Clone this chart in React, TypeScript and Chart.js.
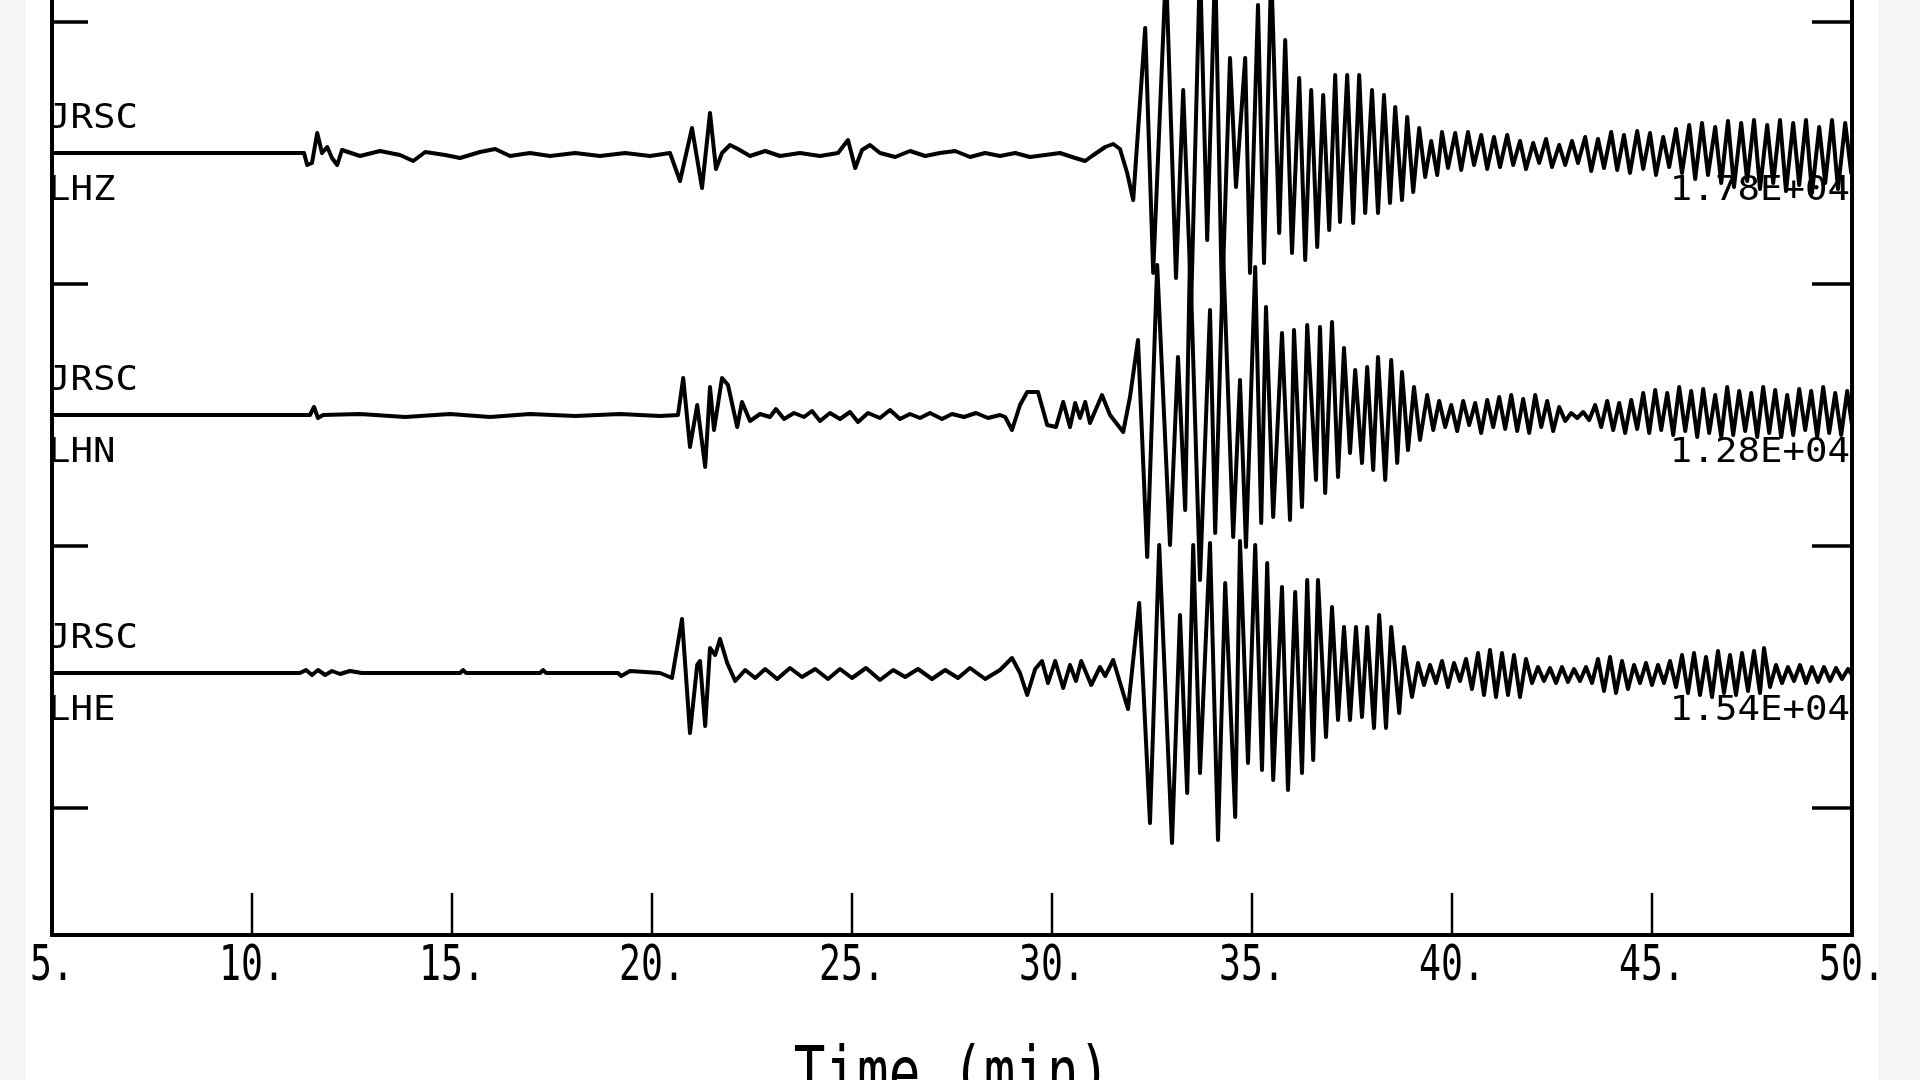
import { useEffect, useRef } from "react";
import { Chart, registerables } from "chart.js";

Chart.register(...registerables);

// ---- axis data ----
const xMin = 5;
const xMax = 50;
const xTicks = [5, 10, 15, 20, 25, 30, 35, 40, 45, 50];
const xTickLabels = ["5.", "10.", "15.", "20.", "25.", "30.", "35.", "40.", "45.", "50."];
const xTitle = "Time (min)";
const yMin = 0;
const yMax = 935;
const yTickValues = [127, 389, 651, 913];

// ---- trace meta ----
const traceBaselines = [782, 520, 262];
const stationNames = ["JRSC", "JRSC", "JRSC"];
const channelNames = ["LHZ", "LHN", "LHE"];
const amplitudeLabels = ["1.78E+04", "1.28E+04", "1.54E+04"];

// ---- trace samples: [time (min), amplitude] ----
const lhzSamples: [number, number][] = [
  [5.0, 0], [11.3, 0], [11.38, -12], [11.5, -10], [11.63, 20], [11.75, 0], [11.88, 6], [12.0, -5], [12.13, -12], [12.25, 3],
  [12.7, -3], [13.2, 2], [13.7, -2], [14.03, -8], [14.33, 1], [14.83, -2], [15.2, -5], [15.7, 1], [16.08, 4], [16.45, -3],
  [16.95, 0], [17.45, -3], [18.08, 0], [18.7, -3], [19.33, 0], [19.95, -3], [20.45, 0], [20.7, -28], [21.0, 25], [21.25, -35],
  [21.45, 40], [21.6, -16], [21.75, 0], [21.95, 8], [22.15, 4], [22.45, -3], [22.83, 2], [23.2, -3], [23.7, 0], [24.2, -3],
  [24.65, 0], [24.9, 13], [25.08, -15], [25.25, 3], [25.45, 8], [25.7, 0], [26.08, -4], [26.45, 2], [26.83, -3], [27.2, 0],
  [27.58, 2], [27.95, -4], [28.33, 0], [28.7, -3], [29.08, 0], [29.45, -4], [29.83, -2], [30.2, 0], [30.58, -5], [30.83, -8],
  [31.0, -3], [31.33, 6], [31.53, 9], [31.7, 4], [31.88, -20], [32.03, -47],
  [32.33, 125], [32.53, -120], [32.85, 185], [33.1, -125], [33.28, 63], [33.48, -150], [33.7, 190], [33.88, -87], [34.08, 190], [34.25, -150],
  [34.45, 95], [34.6, -34], [34.83, 95], [34.95, -120], [35.15, 148], [35.3, -110], [35.48, 185], [35.68, -80], [35.83, 113], [36.0, -100],
  [36.18, 75], [36.33, -107], [36.48, 63], [36.63, -94], [36.78, 58], [36.93, -77], [37.08, 78], [37.2, -69], [37.38, 78], [37.53, -70],
  [37.68, 78], [37.83, -60], [38.0, 63], [38.15, -60], [38.3, 58], [38.45, -50], [38.58, 46], [38.75, -47], [38.88, 36], [39.03, -39],
  [39.18, 25], [39.33, -24], [39.48, 12], [39.63, -22], [39.75, 21],
  [39.9, -15], [40.08, 20], [40.23, -17], [40.4, 21], [40.55, -12], [40.73, 18], [40.88, -16], [41.05, 16], [41.2, -14], [41.38, 18],
  [41.53, -12], [41.7, 12], [41.85, -16], [42.03, 10], [42.18, -10], [42.35, 14], [42.5, -14], [42.68, 8], [42.83, -12], [43.0, 12],
  [43.15, -10], [43.33, 16], [43.48, -18], [43.65, 14], [43.8, -15], [43.98, 21], [44.13, -17], [44.3, 18], [44.45, -20], [44.63, 22],
  [44.78, -16], [44.95, 20], [45.1, -22], [45.28, 16], [45.43, -14], [45.6, 24], [45.75, -20], [45.93, 28], [46.08, -26], [46.25, 30],
  [46.4, -22], [46.58, 26], [46.73, -30], [46.9, 32], [47.05, -34], [47.23, 30], [47.38, -28], [47.55, 33], [47.7, -36], [47.88, 28],
  [48.03, -30], [48.2, 33], [48.35, -38], [48.53, 30], [48.68, -32], [48.85, 33], [49.0, -40], [49.18, 26], [49.33, -30], [49.5, 33],
  [49.65, -36], [49.83, 30], [49.98, -20],
];

const lhnSamples: [number, number][] = [
  [5.0, 0], [11.45, 0], [11.55, 8], [11.65, -3], [11.78, 0], [12.7, 1], [13.83, -2], [14.95, 1], [15.95, -2], [16.95, 1],
  [18.08, -1], [19.2, 1], [20.2, -1], [20.65, 0], [20.78, 37], [20.95, -32], [21.13, 10], [21.33, -52], [21.45, 28], [21.55, -15],
  [21.75, 37], [21.9, 30], [22.13, -12], [22.25, 13], [22.45, -6], [22.7, 1], [22.95, -2], [23.1, 6], [23.3, -4], [23.55, 2],
  [23.8, -2], [24.0, 4], [24.2, -6], [24.45, 2], [24.7, -4], [24.95, 3], [25.15, -7], [25.4, 2], [25.7, -3], [25.95, 5],
  [26.2, -4], [26.45, 1], [26.7, -3], [26.95, 2], [27.25, -4], [27.5, 1], [27.8, -2], [28.1, 2], [28.4, -3], [28.7, 0],
  [28.83, -2], [29.0, -15], [29.2, 10], [29.38, 23], [29.65, 23], [29.88, -10], [30.1, -12], [30.28, 13], [30.45, -12], [30.58, 12],
  [30.7, -3], [30.83, 13], [30.95, -8], [31.25, 20], [31.45, 0],
  [31.78, -17], [31.95, 18], [32.15, 75], [32.38, -142], [32.63, 150], [32.95, -130], [33.15, 58], [33.33, -95], [33.45, 160], [33.7, -165],
  [33.95, 105], [34.08, -118], [34.28, 160], [34.53, -122], [34.7, 35], [34.85, -132], [35.08, 148], [35.23, -108], [35.35, 108], [35.53, -102],
  [35.75, 82], [35.95, -105], [36.05, 85], [36.25, -92], [36.38, 90], [36.6, -65], [36.7, 88], [36.83, -78], [37.0, 93], [37.15, -62],
  [37.3, 67], [37.45, -38], [37.58, 45], [37.75, -48], [37.88, 48], [38.03, -55], [38.15, 58], [38.33, -65], [38.48, 55], [38.63, -48],
  [38.75, 43], [38.9, -35], [39.05, 28], [39.2, -25], [39.38, 20], [39.53, -15],
  [39.68, 14], [39.83, -12], [39.98, 10], [40.13, -16], [40.28, 14], [40.43, -10], [40.58, 12], [40.73, -18], [40.88, 15], [41.03, -12],
  [41.18, 18], [41.33, -14], [41.48, 20], [41.63, -16], [41.78, 16], [41.93, -18], [42.08, 20], [42.23, -12], [42.38, 14], [42.53, -16],
  [42.68, 8], [42.83, -6], [42.98, 2], [43.13, -3], [43.28, 3], [43.43, -5], [43.58, 10], [43.73, -12], [43.88, 14], [44.03, -15],
  [44.18, 12], [44.33, -18], [44.48, 15], [44.63, -14], [44.78, 22], [44.93, -18], [45.08, 25], [45.23, -15], [45.38, 22], [45.53, -20],
  [45.68, 28], [45.83, -16], [45.98, 24], [46.13, -22], [46.28, 26], [46.43, -18], [46.58, 20], [46.73, -22], [46.88, 28], [47.03, -20],
  [47.18, 24], [47.33, -16], [47.48, 22], [47.63, -22], [47.78, 28], [47.93, -18], [48.08, 25], [48.23, -22], [48.38, 20], [48.53, -20],
  [48.68, 26], [48.83, -15], [48.98, 24], [49.13, -22], [49.28, 28], [49.43, -18], [49.58, 22], [49.73, -20], [49.88, 24], [50.0, -10],
];

const lheSamples: [number, number][] = [
  [5.0, 0], [11.2, 0], [11.35, 3], [11.5, -2], [11.65, 3], [11.83, -2], [12.0, 2], [12.2, -1], [12.45, 2], [12.75, 0],
  [15.2, 0], [15.28, 3], [15.35, 0], [17.2, 0], [17.28, 3], [17.35, 0], [19.15, 0], [19.23, -3], [19.45, 2], [20.2, 0],
  [20.5, -5], [20.75, 54], [20.95, -60], [21.13, 8], [21.2, 12], [21.33, -53], [21.45, 25], [21.58, 18], [21.7, 34], [21.88, 10],
  [22.08, -8], [22.33, 3], [22.58, -5], [22.83, 4], [23.13, -6], [23.45, 5], [23.75, -4], [24.08, 4], [24.4, -6], [24.7, 4],
  [25.0, -5], [25.35, 5], [25.7, -7], [26.03, 3], [26.33, -4], [26.65, 4], [27.0, -6], [27.33, 3], [27.65, -5], [27.95, 5],
  [28.33, -6], [28.7, 3], [29.0, 15], [29.2, 0], [29.38, -22], [29.58, 4], [29.75, 12], [29.9, -10], [30.08, 12], [30.28, -15],
  [30.45, 8], [30.6, -8], [30.73, 12], [30.98, -12], [31.2, 6], [31.33, -3], [31.53, 13], [31.9, -36], [32.18, 70], [32.45, -150],
  [32.68, 128], [33.0, -170], [33.2, 58], [33.38, -120], [33.53, 128], [33.7, -100], [33.95, 130], [34.15, -167], [34.33, 90], [34.58, -144],
  [34.7, 132], [34.9, -90], [35.08, 128], [35.25, -97], [35.38, 110], [35.53, -107], [35.75, 86], [35.9, -117], [36.08, 81], [36.25, -100],
  [36.38, 93], [36.53, -87], [36.65, 93], [36.85, -64], [37.0, 66], [37.15, -47], [37.3, 46], [37.45, -47], [37.6, 46], [37.75, -44],
  [37.88, 46], [38.05, -55], [38.18, 58], [38.35, -55], [38.48, 46], [38.68, -40], [38.8, 26], [39.0, -24],
  [39.15, 10], [39.3, -12], [39.45, 8], [39.6, -10], [39.75, 12], [39.9, -14], [40.05, 10], [40.2, -8], [40.35, 14], [40.5, -16],
  [40.65, 20], [40.8, -22], [40.95, 23], [41.1, -24], [41.25, 20], [41.4, -22], [41.55, 18], [41.7, -24], [41.85, 14], [42.0, -10],
  [42.15, 6], [42.3, -8], [42.45, 5], [42.6, -10], [42.75, 6], [42.9, -9], [43.05, 4], [43.2, -8], [43.35, 6], [43.5, -10],
  [43.65, 14], [43.8, -18], [43.95, 16], [44.1, -20], [44.25, 12], [44.4, -16], [44.55, 8], [44.7, -10], [44.85, 10], [45.0, -12],
  [45.15, 8], [45.3, -10], [45.45, 12], [45.6, -14], [45.75, 18], [45.9, -20], [46.05, 20], [46.2, -22], [46.35, 16], [46.5, -24],
  [46.65, 22], [46.8, -20], [46.95, 18], [47.1, -22], [47.25, 20], [47.4, -18], [47.55, 22], [47.7, -20], [47.8, 25], [47.95, -14],
  [48.1, 8], [48.25, -10], [48.4, 6], [48.55, -8], [48.7, 8], [48.85, -10], [49.0, 6], [49.15, -9], [49.3, 6], [49.45, -8],
  [49.6, 5], [49.75, -6], [49.9, 4], [50.0, -2],
];

const traces = [lhzSamples, lhnSamples, lheSamples];

const MONO = '"DejaVu Sans Mono", "Liberation Mono", monospace';

function drawScaledText(
  ctx: CanvasRenderingContext2D,
  text: string,
  x: number,
  y: number,
  size: number,
  sx: number,
  align: "left" | "center" | "right"
) {
  ctx.save();
  ctx.font = `${size}px ${MONO}`;
  ctx.textAlign = "left";
  ctx.textBaseline = "alphabetic";
  const w = ctx.measureText(text).width * sx;
  const left = align === "center" ? x - w / 2 : align === "right" ? x - w : x;
  ctx.translate(left, y);
  ctx.scale(sx, 1);
  ctx.fillStyle = "#000";
  ctx.fillText(text, 0, 0);
  ctx.restore();
}

const framePlugin = {
  id: "seismoFrame",
  beforeDraw(chart: any) {
    const ctx = chart.ctx as CanvasRenderingContext2D;
    ctx.save();
    ctx.fillStyle = "#ffffff";
    ctx.fillRect(0, 0, chart.width, chart.height);
    ctx.fillStyle = "#f5f5f5";
    ctx.fillRect(0, 0, 26, chart.height);
    ctx.fillRect(1878, 0, chart.width - 1878, chart.height);
    ctx.restore();
  },
  afterDatasetsDraw(chart: any) {
    const ctx = chart.ctx as CanvasRenderingContext2D;
    const a = chart.chartArea;
    const xs = chart.scales.x;
    const ys = chart.scales.y;
    ctx.save();
    ctx.strokeStyle = "#000";
    ctx.lineCap = "butt";

    // left/right frame
    ctx.lineWidth = 4;
    ctx.beginPath();
    ctx.moveTo(a.left, a.top - 4);
    ctx.lineTo(a.left, a.bottom);
    ctx.moveTo(a.right, a.top - 4);
    ctx.lineTo(a.right, a.bottom);
    ctx.stroke();
    // bottom frame
    ctx.lineWidth = 4;
    ctx.beginPath();
    ctx.moveTo(a.left - 2, a.bottom);
    ctx.lineTo(a.right + 2, a.bottom);
    ctx.stroke();

    // y ticks (inward on both sides)
    ctx.lineWidth = 3.5;
    ctx.beginPath();
    for (const v of yTickValues) {
      const py = ys.getPixelForValue(v);
      ctx.moveTo(a.left, py);
      ctx.lineTo(a.left + 36, py);
      ctx.moveTo(a.right - 40, py);
      ctx.lineTo(a.right, py);
    }
    ctx.stroke();

    // x ticks (inward)
    ctx.lineWidth = 2.5;
    ctx.beginPath();
    for (const t of xTicks) {
      if (t === xMin || t === xMax) continue;
      const px = xs.getPixelForValue(t);
      ctx.moveTo(px, a.bottom);
      ctx.lineTo(px, a.bottom - 42);
    }
    ctx.stroke();
    ctx.restore();

    // x tick labels
    xTicks.forEach((t, i) => {
      const px = xs.getPixelForValue(t);
      drawScaledText(ctx, xTickLabels[i], px, a.bottom + 45, 50, 0.73, "center");
    });

    // axis title
    drawScaledText(ctx, xTitle, (a.left + a.right) / 2, a.bottom + 162, 71, 0.74, "center");

    // trace labels
    traceBaselines.forEach((b, i) => {
      const py = ys.getPixelForValue(b);
      drawScaledText(ctx, stationNames[i], a.left - 4, py - 25, 34, 1.1, "left");
      drawScaledText(ctx, channelNames[i], a.left - 4, py + 47, 34, 1.1, "left");
      drawScaledText(ctx, amplitudeLabels[i], a.right - 2, py + 47, 34, 1.1, "right");
    });
  },
};

export default function App() {
  const canvasRef = useRef<HTMLCanvasElement | null>(null);

  useEffect(() => {
    document.body.style.margin = "0";
    const canvas = canvasRef.current;
    if (!canvas) return;
    const datasets = traces.map((samples, i) => ({
      label: `${stationNames[i]} ${channelNames[i]}`,
      data: samples.map(([t, v]) => ({ x: t, y: traceBaselines[i] + v })),
      borderColor: "#000000",
      borderWidth: 4,
      pointRadius: 0,
      tension: 0,
      fill: false,
      borderJoinStyle: "round" as const,
      borderCapStyle: "round" as const,
    }));
    const chart = new Chart(canvas, {
      type: "line",
      data: { datasets },
      options: {
        animation: false,
        responsive: false,
        devicePixelRatio: 1,
        events: [],
        layout: { padding: { left: 52, right: 68, top: 0, bottom: 145 } },
        plugins: {
          legend: { display: false },
          tooltip: { enabled: false },
        },
        scales: {
          x: { type: "linear", min: xMin, max: xMax, display: false },
          y: { type: "linear", min: yMin, max: yMax, display: false },
        },
      },
      plugins: [framePlugin],
    });
    return () => chart.destroy();
  }, []);

  return (
    <div style={{ position: "absolute", left: 0, top: 0, width: 1920, height: 1080, background: "#fff" }}>
      <canvas ref={canvasRef} width={1920} height={1080} style={{ display: "block" }} />
    </div>
  );
}
